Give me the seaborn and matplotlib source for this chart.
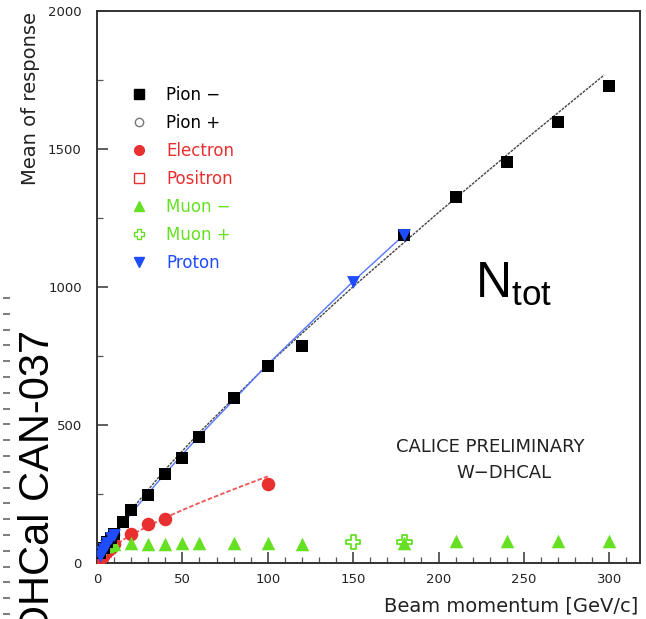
import numpy as np
import pandas as pd
import matplotlib
matplotlib.use("Agg")
import matplotlib.pyplot as plt
from matplotlib.lines import Line2D
from matplotlib.ticker import MultipleLocator
import seaborn as sns

# ---------------- data ----------------
pion_minus_x = [2, 4, 6, 8, 10, 15, 20, 30, 40, 50, 60, 80, 100, 120, 180, 210, 240, 270, 300]
pion_minus_y = [35, 55, 75, 90, 105, 148, 192, 246, 322, 380, 458, 598, 712, 788, 1190, 1325, 1452, 1598, 1728]

pion_plus_x = [4, 6, 8, 10]
pion_plus_y = [52, 72, 88, 102]

electron_x = [1, 2, 4, 6, 8, 10, 20, 30, 40, 100]
electron_y = [12, 22, 32, 45, 55, 68, 105, 141, 159, 288]

positron_x = [1, 2, 3, 4, 5, 6]
positron_y = [10, 20, 28, 35, 40, 48]

muon_minus_x = [2, 4, 6, 8, 10, 20, 30, 40, 50, 60, 80, 100, 120, 180, 210, 240, 270, 300]
muon_minus_y = [55, 60, 62, 65, 68, 72, 70, 70, 72, 72, 74, 72, 68, 72, 80, 80, 80, 80]

muon_plus_x = [150, 180]
muon_plus_y = [76, 76]

proton_x = [2, 3, 4, 5, 6, 8, 10, 150, 180]
proton_y = [25, 40, 52, 62, 72, 90, 100, 1018, 1188]

# fitted curves
pion_fit_x = [0.5, 5, 10, 20, 40, 60, 100, 150, 200, 250, 297]
pion_fit_y = [9, 61, 109, 192, 339, 473, 719, 1001, 1270, 1530, 1768]

proton_fit_x = [0.5, 5, 10, 20, 40, 60, 100, 150, 180]
proton_fit_y = [8, 55, 100, 180, 325, 461, 720, 1020, 1190]

electron_fit_x = [0.5, 2, 5, 10, 20, 40, 60, 80, 100]
electron_fit_y = [8, 20, 38, 63, 102, 165, 218, 267, 314]

legend_labels = ["Pion \u2212", "Pion +", "Electron", "Positron", "Muon \u2212", "Muon +", "Proton"]

x_ticks = [0, 50, 100, 150, 200, 250, 300]
y_ticks = [0, 500, 1000, 1500, 2000]

# ---------------- style ----------------
sns.set_style("ticks")
plt.rcParams["font.family"] = ["DejaVu Sans"]
plt.rcParams["mathtext.fontset"] = "custom"
plt.rcParams["mathtext.rm"] = "Liberation Sans"
plt.rcParams["mathtext.it"] = "Liberation Sans"

BLACK = "#000000"
RED = "#e83030"
GREEN = "#66e022"
BLUE = "#1f4cff"

W, H = 646, 619
fig = plt.figure(figsize=(W / 100, H / 100), dpi=100)
ax = fig.add_axes([97 / W, (H - 563) / H, (640 - 97) / W, (563 - 11) / H])

# fit lines
sns.lineplot(x=pion_fit_x, y=pion_fit_y, ax=ax, color="#444444", lw=1.0,
             linestyle=(0, (2, 0.8)), sort=False, estimator=None)
sns.lineplot(x=proton_fit_x, y=proton_fit_y, ax=ax, color="#5577ff", lw=1.0,
             sort=False, estimator=None)
sns.lineplot(x=electron_fit_x, y=electron_fit_y, ax=ax, color="#f05555", lw=1.3,
             linestyle=(0, (2.5, 1.2)), sort=False, estimator=None)

def scatter(xs, ys, marker, color, size, open_=False):
    sns.scatterplot(x=xs, y=ys, ax=ax, marker=marker, s=size, color=color,
                    linewidth=0 if not open_ else 1.3, zorder=3)
    coll = ax.collections[-1]
    if open_:
        coll.set_facecolor("none")
        coll.set_edgecolor(color)
    else:
        coll.set_edgecolor(color)

scatter(positron_x, positron_y, "s", RED, 60, open_=True)
scatter(electron_x, electron_y, "o", RED, 95)
scatter(muon_minus_x, muon_minus_y, "^", GREEN, 95)
scatter(muon_plus_x, muon_plus_y, "P", GREEN, 110, open_=True)
scatter(pion_plus_x, pion_plus_y, "o", "#777777", 60, open_=True)
scatter(pion_minus_x, pion_minus_y, "s", BLACK, 85)
scatter(proton_x, proton_y, "v", BLUE, 85)

ax.set_xlim(0, 318)
ax.set_ylim(0, 2000)
ax.set_xticks(x_ticks)
ax.set_yticks(y_ticks)
ax.xaxis.set_minor_locator(MultipleLocator(10))
ax.yaxis.set_minor_locator(MultipleLocator(250))
ax.tick_params(which="major", direction="in", length=8, width=1.1, color="#333333",
               labelsize=9.5, labelcolor="#222222")
ax.tick_params(which="minor", direction="in", length=4, width=0.9, color="#555555")
ax.tick_params(axis="x", which="major", pad=7)
ax.tick_params(axis="y", which="major", pad=11)
for sp in ax.spines.values():
    sp.set_visible(True)
    sp.set_linewidth(1.4)
    sp.set_color("#333333")
ax.set_xlabel("")
ax.set_ylabel("")

# axis titles
fig.text(638 / W, 1 - 606 / H, "Beam momentum [GeV/c]", ha="right", va="center",
         fontsize=14, color="#222222")
fig.text(31 / W, 1 - 12 / H, "Mean of response", rotation=90, ha="center", va="top",
         fontsize=14, color="#222222")

# legend
handles = [
    Line2D([], [], ls="none", marker="s", color=BLACK, ms=7),
    Line2D([], [], ls="none", marker="o", mfc="none", mec="#777777", ms=6),
    Line2D([], [], ls="none", marker="o", color=RED, ms=7),
    Line2D([], [], ls="none", marker="s", mfc="none", mec=RED, ms=7),
    Line2D([], [], ls="none", marker="^", color=GREEN, ms=7),
    Line2D([], [], ls="none", marker="P", mfc="none", mec=GREEN, ms=7),
    Line2D([], [], ls="none", marker="v", color=BLUE, ms=7),
]
text_colors = [BLACK, BLACK, RED, RED, GREEN, GREEN, BLUE]
leg = fig.legend(handles, legend_labels, loc="upper left",
                 bbox_to_anchor=(131 / W, 1 - 86 / H), frameon=False,
                 fontsize=12, labelspacing=0.6, handlelength=0.9,
                 handletextpad=1.2, borderaxespad=0, borderpad=0)
for t, c in zip(leg.get_texts(), text_colors):
    t.set_color(c)

# annotations
fig.text(490 / W, 1 - 447 / H, "CALICE PRELIMINARY", ha="center", va="center",
         fontsize=13, color="#222222")
fig.text(504 / W, 1 - 473 / H, "W\u2212DHCAL", ha="center", va="center",
         fontsize=13, color="#222222")
fig.text(475 / W, 1 - 298 / H, r"$\mathrm{N}_{\mathrm{tot}}$", ha="left",
         va="baseline", fontsize=36, color="black")

# left side watermark text (cut off at the bottom edge, as in the reference)
fig.text(38 / W, 1 - 330 / H, "DHCal CAN-037", rotation=90, ha="center", va="top",
         fontsize=30, family="Liberation Sans", color="black")

# decorative tick column at far left
axl = fig.add_axes([3 / W, 0, 0.02, 1])
axl.set_ylim(H, 0)
axl.set_xlim(0, 1)
axl.set_yticks(np.arange(298, H, 15.8))
axl.set_yticklabels([])
axl.set_xticks([])
axl.tick_params(axis="y", direction="in", length=5, width=1.2, color="#666666")
for sp in axl.spines.values():
    sp.set_visible(False)
axl.patch.set_alpha(0)

fig.savefig("out.png", dpi=100)
